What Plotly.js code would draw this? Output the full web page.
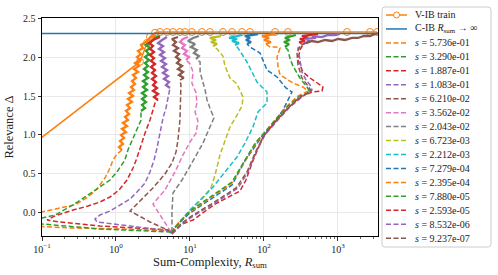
<!DOCTYPE html>
<html><head><meta charset="utf-8">
<script src="https://cdn.plot.ly/plotly-3.0.1.min.js"></script>
<style>html,body{margin:0;padding:0;background:#fff}#chart{width:498px;height:275px}</style>
</head><body><div id="chart"></div>
<script>
// ---------- data ----------
const sLabels = ['5.736e-01','3.290e-01','1.887e-01','1.083e-01','6.210e-02','3.562e-02','2.043e-02','6.723e-03','2.212e-03','7.279e-04','2.395e-04','7.880e-05','2.593e-05','8.532e-06','9.237e-07'];

const vibR = [0.0794, 2.11, 2.62, 2.88, 3.37, 3.94, 4.89, 5.89, 7.32, 8.55, 10.6, 14.5, 18.6, 27.9, 37.0, 50.5, 64.7, 141, 211, 1324, 2706, 3365];
const vibD = [0.897, 1.94, 2.18, 2.26, 2.31, 2.32, 2.32, 2.32, 2.32, 2.32, 2.32, 2.32, 2.32, 2.32, 2.32, 2.32, 2.32, 2.32, 2.32, 2.32, 2.32, 2.32];

const cibR = [0.01, 10000];
const cibD = [2.30, 2.30];

const s1R = [5.71, 1.13, 0.239, 0.1, 0.069, 0.069, 0.1, 0.175, 0.279, 0.419, 0.553, 0.71, 0.83, 0.91, 1.03,
  1.205, 1.098, 1.243, 1.133, 1.283, 1.169, 1.365, 1.205, 1.408, 1.243, 1.453, 1.323, 1.499, 1.365, 1.546, 1.408, 1.645, 1.453, 1.697, 1.499, 1.751, 1.595, 1.806, 1.645, 1.863, 1.697, 1.983, 1.751, 2.046, 1.806, 2.110, 1.922, 2.177, 1.983, 2.317, 2.177, 2.544,
  2.881, 3.472];
const s1D = [-0.231, -0.205, -0.192, -0.179, -0.167, 0.0, 0.013, 0.064, 0.103, 0.205, 0.308, 0.449, 0.577, 0.679, 0.756,
  0.808, 0.846, 0.885, 0.923, 0.962, 1.0, 1.038, 1.077, 1.115, 1.154, 1.192, 1.231, 1.269, 1.308, 1.346, 1.385, 1.423, 1.462, 1.5, 1.538, 1.577, 1.615, 1.654, 1.692, 1.731, 1.769, 1.808, 1.846, 1.885, 1.923, 1.962, 2.0, 2.038, 2.077, 2.115, 2.154, 2.192,
  2.244, 2.282];

const s2R = [5.54, 0.608, 0.1, 0.069, 0.069, 0.1, 0.150, 0.262, 0.419, 0.608, 0.83, 1.03, 1.21, 1.32, 1.45, 1.60, 1.92, 2.18,
  2.177, 2.466, 2.246, 2.544, 2.246, 2.544, 2.246, 2.624, 2.317, 2.624, 2.317, 2.707, 2.390, 2.707, 2.390, 2.707, 2.466, 2.793, 2.466, 2.793, 2.544, 2.881, 2.544, 2.972,
  3.365, 3.932];
const s2D = [-0.244, -0.205, -0.141, -0.128, -0.064, -0.064, -0.026, 0.103, 0.231, 0.333, 0.423, 0.526, 0.615, 0.679, 0.808, 0.897, 1.064, 1.192,
  1.308, 1.346, 1.385, 1.423, 1.462, 1.5, 1.538, 1.577, 1.615, 1.654, 1.692, 1.731, 1.769, 1.808, 1.846, 1.885, 1.923, 1.962, 2.0, 2.038, 2.077, 2.115, 2.154, 2.192,
  2.244, 2.269];

const s3R = [5.37, 0.608, 0.175, 0.117, 0.150, 0.262, 0.419, 0.608, 0.83, 1.10, 1.41, 1.70, 1.92, 2.11, 2.47, 2.88, 3.16, 3.37,
  3.695, 3.262, 3.695, 3.162, 3.582, 3.162, 3.472, 3.066, 3.472, 3.066, 3.365, 2.972, 3.365, 2.972, 3.262, 2.881, 3.262, 2.881, 3.162, 2.793, 3.162,
  3.932];
const s3D = [-0.218, -0.167, -0.115, -0.09, -0.038, 0.038, 0.09, 0.141, 0.205, 0.295, 0.423, 0.577, 0.705, 0.833, 1.026, 1.192, 1.321, 1.41,
  1.449, 1.487, 1.526, 1.564, 1.603, 1.641, 1.679, 1.718, 1.756, 1.795, 1.833, 1.872, 1.910, 1.949, 1.987, 2.026, 2.064, 2.103, 2.141, 2.179, 2.218,
  2.256];

const s4R = [5.54, 1.55, 0.553, 0.52, 0.608, 0.83, 1.13, 1.55, 1.92, 2.47, 2.88, 3.27, 3.58, 3.81, 4.06, 4.32, 4.74, 5.04,
  5.367, 4.739, 5.203, 4.453, 5.043, 4.317, 4.889, 4.184, 4.739, 4.056, 4.594, 3.932, 4.453, 3.812, 4.317, 3.695, 4.184,
  4.889];
const s4D = [-0.231, -0.167, -0.115, -0.077, -0.026, 0.026, 0.103, 0.179, 0.269, 0.385, 0.526, 0.679, 0.833, 0.962, 1.09, 1.218, 1.346, 1.474,
  1.603, 1.641, 1.679, 1.718, 1.756, 1.795, 1.833, 1.872, 1.91, 1.949, 1.987, 2.026, 2.064, 2.103, 2.141, 2.179, 2.218,
  2.256];

const s5R = [5.71, 2.88, 1.55, 2.11, 3.16, 4.59, 5.71, 6.47, 6.88, 7.32, 7.55, 7.55, 7.32,
  8.298, 7.102, 8.044, 6.885, 7.797, 6.674, 7.327, 6.469, 7.102, 6.079, 6.885, 5.892, 6.469, 5.712,
  6.885];
const s5D = [-0.244, -0.115, 0.026, 0.154, 0.321, 0.5, 0.641, 0.782, 0.936, 1.192, 1.449, 1.641, 1.705,
  1.731, 1.769, 1.808, 1.846, 1.885, 1.923, 1.962, 2.0, 2.038, 2.077, 2.115, 2.154, 2.192, 2.231,
  2.256];

const s6R = [5.54, 3.16, 4.59, 6.27, 8.04, 10.0, 12.1, 12.8, 11.7, 12.4, 12.1, 10.6, 11.0, 10.0, 8.83, 9.69, 8.29, 9.10, 7.80, 8.55, 7.32, 8.04, 9.39];
const s6D = [-0.244, 0.115, 0.295, 0.526, 0.744, 0.91, 1.026, 1.179, 1.295, 1.41, 1.538, 1.667, 1.808, 1.91, 1.962, 2.0, 2.038, 2.077, 2.115, 2.154, 2.192, 2.231, 2.256];

const s7R = [5.71, 5.71, 5.89, 7.80, 10.6, 15.0, 18.6, 21.1, 18.6, 17.0, 16.0, 15.0, 13.7, 13.7, 12.1, 13.2, 11.3, 12.4, 10.3, 11.7, 9.39, 11.0, 13.2];
const s7D = [-0.244, 0.013, 0.256, 0.423, 0.641, 0.897, 1.103, 1.218, 1.346, 1.449, 1.577, 1.679, 1.808, 1.936, 1.974, 2.013, 2.051, 2.09, 2.128, 2.167, 2.205, 2.244, 2.269];

const s8R = [5.54, 7.32, 10.0, 15.0, 19.2, 21.8, 25.4, 29.7, 34.7, 43.2, 50.5, 52.0, 43.2, 34.7, 29.7, 27.9, 23.2, 20.5, 23.2, 19.2, 22.5, 18.6, 21.8, 26.2];
const s8D = [-0.256, -0.115, 0.026, 0.192, 0.321, 0.487, 0.744, 0.936, 1.103, 1.256, 1.372, 1.487, 1.654, 1.731, 1.885, 2.013, 2.103, 2.141, 2.167, 2.192, 2.218, 2.244, 2.256, 2.269];

const s9R = [5.37, 7.32, 10.0, 16.0, 20.5, 29.7, 43.2, 55.3, 71.0, 83.0, 110, 110, 80.4, 68.9, 58.9, 44.6, 40.6, 45.9, 37.0, 43.2, 33.7, 41.9, 50.5];
const s9D = [-0.256, -0.103, 0.038, 0.231, 0.333, 0.526, 0.718, 0.897, 1.103, 1.295, 1.41, 1.551, 1.679, 1.808, 1.936, 2.115, 2.154, 2.179, 2.205, 2.231, 2.244, 2.269, 2.282];

const s10R = [5.37, 7.32, 10.0, 18.6, 37.0, 55.3, 78.0, 96.9, 132, 181, 239, 198, 150, 110, 88.3, 64.7, 58.9, 66.7, 57.1, 64.7, 55.3, 68.9, 83.0];
const s10D = [-0.256, -0.115, 0.0, 0.167, 0.359, 0.667, 0.872, 1.0, 1.128, 1.321, 1.551, 1.603, 1.744, 1.833, 2.051, 2.128, 2.167, 2.192, 2.218, 2.244, 2.269, 2.282, 2.295];

const s11R = [5.54, 7.32, 10.0, 18.6, 37.0, 55.3, 78.0, 103, 141, 205, 288, 394, 336, 246, 192, 165, 155, 150, 165, 146, 121, 106, 124, 100, 117, 94, 113, 141];
const s11D = [-0.244, -0.103, 0.013, 0.192, 0.385, 0.667, 0.897, 1.038, 1.192, 1.372, 1.5, 1.564, 1.615, 1.667, 1.731, 1.769, 1.872, 2.0, 2.115, 2.128, 2.128, 2.167, 2.192, 2.218, 2.244, 2.269, 2.282, 2.295];

const s12R = [5.54, 7.32, 10.0, 18.6, 37.0, 55.3, 78.0, 106, 145, 211, 306, 419, 381, 306, 246, 224, 211, 192, 218, 186, 224, 192, 232, 270];
const s12D = [-0.256, -0.115, 0.026, 0.205, 0.397, 0.679, 0.91, 1.051, 1.205, 1.372, 1.5, 1.551, 1.615, 1.731, 1.885, 1.987, 2.09, 2.128, 2.167, 2.192, 2.218, 2.244, 2.269, 2.282];

const s13R = [5.71, 7.80, 11.0, 21.8, 47.4, 57.1, 68.9, 96.9, 141, 211, 306, 446, 608, 627, 504, 419, 336, 288, 306, 336, 297, 358, 306, 394, 326, 432, 537];
const s13D = [-0.269, -0.141, -0.09, 0.115, 0.282, 0.423, 0.641, 0.974, 1.167, 1.346, 1.487, 1.551, 1.564, 1.615, 1.679, 1.731, 1.808, 1.962, 2.09, 2.154, 2.192, 2.205, 2.231, 2.244, 2.269, 2.282, 2.295];

const s14R = [5.71, 8.04, 11.7, 21.8, 44.6, 60.8, 78.0, 103, 150, 224, 326, 446, 419, 370, 326, 306, 288, 336, 419, 370, 504, 446, 608, 733, 910, 1064];
const s14D = [-0.269, -0.128, -0.026, 0.128, 0.321, 0.526, 0.782, 1.0, 1.179, 1.359, 1.487, 1.577, 1.641, 1.705, 1.808, 1.987, 2.115, 2.167, 2.205, 2.231, 2.244, 2.269, 2.256, 2.282, 2.282, 2.295];

const s15R = [5.71, 7.80, 11.0, 20.5, 41.9, 58.9, 78.0, 103, 145, 218, 316, 432, 394, 326, 288, 279, 316, 370, 446, 537, 667, 830, 1000, 1245, 1545, 1858, 2244, 2704, 3162, 3700];
const s15D = [-0.256, -0.128, -0.026, 0.128, 0.321, 0.526, 0.795, 1.013, 1.179, 1.359, 1.487, 1.564, 1.628, 1.731, 1.897, 2.064, 2.154, 2.179, 2.205, 2.192, 2.218, 2.205, 2.231, 2.218, 2.244, 2.244, 2.269, 2.269, 2.295, 2.308];

// index where each run's fluctuating (training-noise) part begins
const noiseStart = [15, 18, 18, 18, 13, 14, 14, 17, 16, 16, 21, 17, 20, 17, 17];

const xTickVals = [0.1, 1, 10, 100, 1000];
const xTickText = ['10<sup>−1</sup>', '10<sup>0</sup>', '10<sup>1</sup>', '10<sup>2</sup>', '10<sup>3</sup>'];
const yTickVals = [0, 0.5, 1, 1.5, 2, 2.5];

// ---------- styles ----------
const seriesR = [s1R,s2R,s3R,s4R,s5R,s6R,s7R,s8R,s9R,s10R,s11R,s12R,s13R,s14R,s15R];
const seriesD = [s1D,s2D,s3D,s4D,s5D,s6D,s7D,s8D,s9D,s10D,s11D,s12D,s13D,s14D,s15D];
const colors = ['#ff7f0e','#2ca02c','#d62728','#9467bd','#8c564b','#e377c2','#7f7f7f','#bcbd22','#17becf','#1f77b4','#ff7f0e','#2ca02c','#d62728','#9467bd','#8c564b'];
const DASH = '5px,2.5px';
const FONT = 'Liberation Serif, DejaVu Serif, serif';

const traces = [];
traces.push({x: vibR, y: vibD, mode: 'lines+markers', name: 'V-IB train',
  line: {color: '#ff7f0e', width: 1.5},
  marker: {symbol: 'circle-open', size: 7, color: '#ff7f0e', line: {width: 1}}});
traces.push({x: cibR, y: cibD, mode: 'lines', name: 'C-IB', line: {color: '#1f77b4', width: 1.5}});
for (let i = 0; i < seriesR.length; i++) {
  const n = noiseStart[i];
  traces.push({x: seriesR[i].slice(0, n + 1), y: seriesD[i].slice(0, n + 1), mode: 'lines', name: 's = ' + sLabels[i],
    line: {color: colors[i], width: 1.5, dash: DASH}});
  // dense noisy steps render as an unbroken band
  traces.push({x: seriesR[i].slice(n), y: seriesD[i].slice(n), mode: 'lines', name: 's = ' + sLabels[i],
    line: {color: colors[i], width: 2.3}});
}

// minor ticks on log axis
const minorVals = [];
for (let k = -1; k <= 3; k++) for (let m = 2; m <= 9; m++) minorVals.push(m * Math.pow(10, k));

// ---------- custom legend (layout positions in px of the 498x275 canvas) ----------
const ML = 42, MT = 18, PW = 336, PH = 218;
const px2x = p => (p - ML) / PW;
const px2y = p => (MT + PH - p) / PH;
const shapes = [];
const annotations = [];
{
  const L = px2x(382), R = px2x(491), T = px2y(7), B = px2y(247);
  const rx = 3 / PW, ry = 3 / PH;
  const path = `M ${L+rx},${T} L ${R-rx},${T} Q ${R},${T} ${R},${T-ry} L ${R},${B+ry} Q ${R},${B} ${R-rx},${B} L ${L+rx},${B} Q ${L},${B} ${L},${B+ry} L ${L},${T-ry} Q ${L},${T} ${L+rx},${T} Z`;
  shapes.push({type: 'path', xref: 'paper', yref: 'paper', path: path, fillcolor: 'rgba(255,255,255,0.9)', line: {color: '#cccccc', width: 1}, layer: 'above'});
}
const entryLabels = ['V-IB train', 'C-IB <i>R</i><sub>sum</sub> → ∞'].concat(sLabels.map(l => '<i>s</i> = ' + l));
const entryColors = ['#ff7f0e', '#1f77b4'].concat(colors);
for (let i = 0; i < entryLabels.length; i++) {
  const yp = 15 + 13.95 * i;
  shapes.push({type: 'line', xref: 'paper', yref: 'paper', x0: px2x(386), x1: px2x(407), y0: px2y(yp), y1: px2y(yp),
    line: {color: entryColors[i], width: 1.5, dash: i < 2 ? 'solid' : DASH}, layer: 'above'});
  if (i === 0) {
    shapes.push({type: 'circle', xref: 'paper', yref: 'paper', x0: px2x(393.5), x1: px2x(399.5), y0: px2y(yp + 3), y1: px2y(yp - 3),
      line: {color: '#ff7f0e', width: 1}, fillcolor: 'white', layer: 'above'});
  }
  annotations.push({xref: 'paper', yref: 'paper', x: px2x(413), y: px2y(yp), xanchor: 'left', yanchor: 'middle',
    text: entryLabels[i], showarrow: false, font: {family: FONT, size: 10, color: '#222'}});
}

const layout = {
  width: 498, height: 275,
  margin: {l: ML, r: 498 - ML - PW, t: MT, b: 275 - MT - PH},
  paper_bgcolor: 'white', plot_bgcolor: 'white',
  font: {family: FONT, size: 10, color: '#222'},
  showlegend: false,
  xaxis: {
    type: 'log', range: [-1, 3.541], tickmode: 'array', tickvals: xTickVals, ticktext: xTickText,
    ticks: 'outside', ticklen: 3.5, tickwidth: 0.8, tickcolor: '#000',
    showline: true, mirror: true, linecolor: '#000', linewidth: 1,
    showgrid: true, gridcolor: '#e3e3e3', gridwidth: 0.8, zeroline: false,
    minor: {tickmode: 'array', tickvals: minorVals, ticks: 'outside', ticklen: 2, tickwidth: 0.6, tickcolor: '#000', showgrid: false},
    title: {text: 'Sum-Complexity, <i>R</i><sub>sum</sub>', font: {family: FONT, size: 12.5, color: '#222'}, standoff: 3},
    tickfont: {family: FONT, size: 10, color: '#222'}
  },
  yaxis: {
    range: [-0.295, 2.5], tickmode: 'array', tickvals: yTickVals, tickformat: '.1f',
    ticks: 'outside', ticklen: 3.5, tickwidth: 0.8, tickcolor: '#000',
    showline: true, mirror: true, linecolor: '#000', linewidth: 1,
    showgrid: true, gridcolor: '#e3e3e3', gridwidth: 0.8, zeroline: false,
    title: {text: 'Relevance Δ', font: {family: FONT, size: 12.5, color: '#222'}, standoff: 6},
    tickfont: {family: FONT, size: 10, color: '#222'}
  },
  shapes: shapes,
  annotations: annotations
};

Plotly.newPlot('chart', traces, layout, {staticPlot: true, displayModeBar: false});
</script>
</body></html>
